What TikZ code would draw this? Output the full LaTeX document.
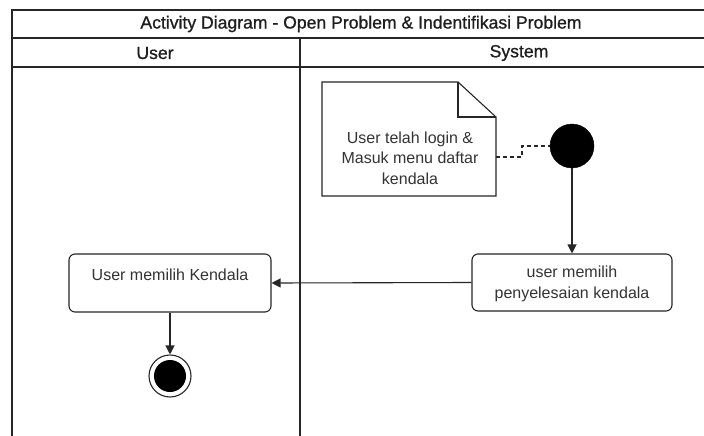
\documentclass[tikz,border=0pt]{standalone}
\usepackage{fontspec}
\setmainfont{Liberation Sans}
\newfontfamily\hdrfont[FakeBold=0.8]{Liberation Sans}
\usetikzlibrary{arrows.meta}
\definecolor{ln}{HTML}{262626}
\definecolor{tx}{HTML}{333333}
\definecolor{hx}{HTML}{1E1E1E}
\tikzset{
  lane/.style={draw=ln, line width=1.1pt},
  act/.style={draw=ln, line width=1.1pt, rounded corners=6pt, fill=white},
  lbl/.style={text=tx, font=\fontsize{16}{20.5}\selectfont, align=center, inner sep=0pt},
  hdr/.style={text=hx, font=\hdrfont\fontsize{17.6}{20}\selectfont, align=center, inner sep=0pt},
  flow/.style={draw=ln, line width=1.1pt, -{Triangle[length=9pt,width=9pt]}},
  dashline/.style={draw=ln, line width=1.1pt, dash pattern=on 4pt off 3pt}
}
\begin{document}
\begin{tikzpicture}[x=1pt,y=-1pt]
\useasboundingbox (0,0) rectangle (704,436);
\fill[white] (0,0) rectangle (704,436);
% swimlane frame
\draw[lane] (704,10) -- (12,10) -- (12,436);
\draw[lane] (12,38) -- (704,38);
\draw[lane] (12,67) -- (704,67);
\draw[lane] (300,38) -- (300,436);
\node[hdr] (title) at (361,24) {Activity Diagram - Open Problem \& Indentifikasi Problem};
\node[hdr] (luser) at (155,53) {User};
\node[hdr] (lsys) at (519,53) {System};
% note
\draw[draw=ln, line width=1.1pt, fill=white] (322,82) -- (458,82) -- (496,117) -- (496,196) -- (322,196) -- cycle;
\draw[draw=ln, line width=1.1pt] (458,82) -- (458,117) -- (496,117);
\coordinate (noteR) at (496,157);
\node[lbl] (note) at (410,158) {User telah login \&\\Masuk menu daftar\\kendala};
% start
\node[circle, fill=black, draw=black, minimum size=44pt, inner sep=0pt] (start) at (572,146) {};
\coordinate (d1) at (522,157);
\coordinate (d2) at (522,146);
\draw[dashline] (noteR) -- (d1) -- (d2) -- (start.west);
% activities
\node[act, minimum width=200pt, minimum height=57pt] (sys) at (572,282.5) {};
\node[lbl] at (572,284) {user memilih\\penyelesaian kendala};
\node[act, minimum width=202pt, minimum height=58pt] (usr) at (170,283) {};
\node[lbl] at (170,275) {User memilih Kendala};
% end
\node[circle, draw=ln, line width=1.1pt, fill=white, minimum size=42pt, inner sep=0pt] (endn) at (170,376) {};
\fill[black] (endn.center) circle (16pt);
% flows
\draw[flow] (start.south) -- (sys.north);
\draw[flow] (sys.west) -- (usr.east);
\draw[flow] (usr.south) -- (endn.north);
\end{tikzpicture}
\end{document}
